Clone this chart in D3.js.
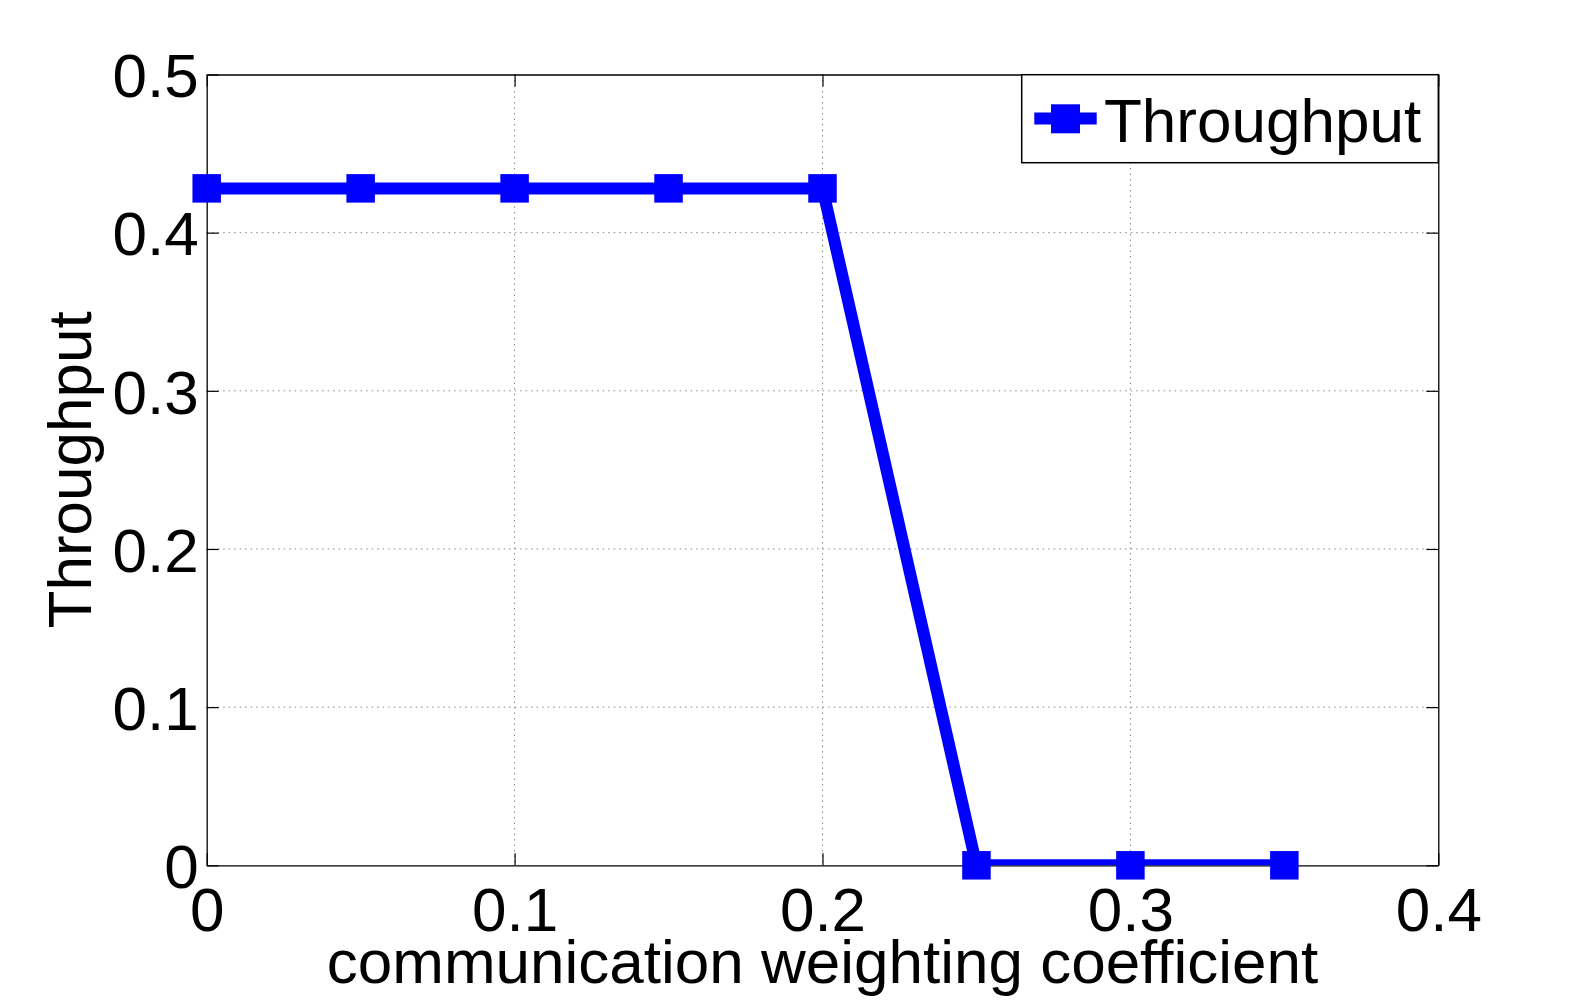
<!DOCTYPE html>
<html>
<head>
<meta charset="utf-8">
<script src="https://cdn.jsdelivr.net/npm/d3@7"></script>
<style>
  html, body { margin: 0; padding: 0; background: #fff; }
  svg { display: block; }
  text { font-family: "Liberation Sans", Arial, Helvetica, sans-serif; fill: #000; }
</style>
</head>
<body>
<script>
// ---- data ----
const xValues = [0, 0.05, 0.1, 0.15, 0.2, 0.25, 0.3, 0.35];
const throughput = [0.428, 0.428, 0.428, 0.428, 0.428, 0, 0, 0];
const xTicks = [0, 0.1, 0.2, 0.3, 0.4];
const yTicks = [0, 0.1, 0.2, 0.3, 0.4, 0.5];
const xLabel = "communication weighting coefficient";
const yLabel = "Throughput";
const seriesName = "Throughput";

const W = 1588, H = 1000;
const margin = { left: 206.7, right: W - 1438.3, top: 74.5, bottom: H - 865.3 };
const pw = W - margin.left - margin.right;
const ph = H - margin.top - margin.bottom;
const fontSize = 62;
const blue = "#0000ff";

const svg = d3.select("body").append("svg").attr("width", W).attr("height", H);
const g = svg.append("g").attr("transform", `translate(${margin.left},${margin.top})`);

const x = d3.scaleLinear().domain([0, 0.4]).range([0, pw]);
const y = d3.scaleLinear().domain([0, 0.5]).range([ph, 0]);

// grid
g.append("g").selectAll("line").data(xTicks.filter(t => t > 0 && t < 0.4)).join("line")
  .attr("x1", d => x(d)).attr("x2", d => x(d)).attr("y1", 0).attr("y2", ph)
  .attr("stroke", "#888").attr("stroke-width", 1).attr("stroke-dasharray", "1.5,4");
g.append("g").selectAll("line").data(yTicks.filter(t => t > 0 && t < 0.5)).join("line")
  .attr("y1", d => y(d)).attr("y2", d => y(d)).attr("x1", 0).attr("x2", pw)
  .attr("stroke", "#888").attr("stroke-width", 1).attr("stroke-dasharray", "1.5,4");

// axes (ticks inward, on all four sides)
const tickLen = 12;
const fmt = d => d === 0 ? "0" : d3.format(".1f")(d);
const axB = g.append("g").attr("transform", `translate(0,${ph})`)
  .call(d3.axisBottom(x).tickValues(xTicks).tickSizeInner(-tickLen).tickSizeOuter(0).tickFormat(fmt));
const axT = g.append("g")
  .call(d3.axisTop(x).tickValues(xTicks).tickSizeInner(-tickLen).tickSizeOuter(0).tickFormat(""));
const axL = g.append("g")
  .call(d3.axisLeft(y).tickValues(yTicks).tickSizeInner(-tickLen).tickSizeOuter(0).tickFormat(fmt));
const axR = g.append("g").attr("transform", `translate(${pw},0)`)
  .call(d3.axisRight(y).tickValues(yTicks).tickSizeInner(-tickLen).tickSizeOuter(0).tickFormat(""));
[axB, axT, axL, axR].forEach(a => {
  a.select(".domain").attr("stroke", "#000").attr("stroke-width", 1.3);
  a.selectAll(".tick line").attr("stroke", "#000").attr("stroke-width", 1.2);
  a.selectAll("text").attr("font-size", fontSize)
    .style("font-family", "'Liberation Sans', Arial, Helvetica, sans-serif").attr("fill", "#000");
});
axB.selectAll(".tick text").attr("y", 21).attr("dy", "0.72em");
axL.selectAll(".tick text").attr("x", -8).attr("dy", "0.36em");

// clip for the line
svg.append("defs").append("clipPath").attr("id", "plotclip")
  .append("rect").attr("x", 0).attr("y", 0).attr("width", pw).attr("height", ph);

const pts = xValues.map((v, i) => [v, throughput[i]]);
const line = d3.line().x(d => x(d[0])).y(d => y(d[1]));
g.append("path").datum(pts).attr("d", line)
  .attr("fill", "none").attr("stroke", blue).attr("stroke-width", 12)
  .attr("stroke-linejoin", "miter").attr("clip-path", "url(#plotclip)");

const ms = 28.5;
g.append("g").selectAll("rect").data(pts).join("rect")
  .attr("x", d => x(d[0]) - ms / 2).attr("y", d => y(d[1]) - ms / 2)
  .attr("width", ms).attr("height", ms).attr("fill", blue);

// axis labels
svg.append("text").attr("x", margin.left + pw / 2).attr("y", 983)
  .attr("text-anchor", "middle").attr("font-size", fontSize).text(xLabel);
svg.append("text").attr("transform", `translate(91,${margin.top + ph / 2}) rotate(-90)`)
  .attr("text-anchor", "middle").attr("font-size", fontSize).text(yLabel);

// legend
const lg = svg.append("g");
lg.append("rect").attr("x", 1021.7).attr("y", 74.7).attr("width", 1438.3 - 1021.7).attr("height", 162.7 - 74.7)
  .attr("fill", "#fff").attr("stroke", "#000").attr("stroke-width", 1.5);
lg.append("line").attr("x1", 1034.3).attr("x2", 1096.7).attr("y1", 118.5).attr("y2", 118.5)
  .attr("stroke", blue).attr("stroke-width", 12);
lg.append("rect").attr("x", 1051).attr("y", 104.3).attr("width", 29).attr("height", 29).attr("fill", blue);
lg.append("text").attr("x", 1104).attr("y", 141.7).attr("font-size", fontSize).text(seriesName);
</script>
</body>
</html>
